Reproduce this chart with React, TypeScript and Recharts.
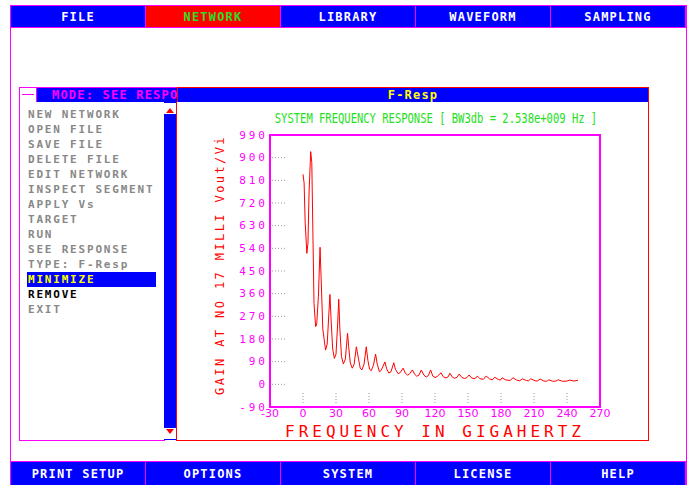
import { LineChart, Line, XAxis, YAxis, ReferenceArea } from 'recharts'

const TOP_MENU = ['FILE', 'NETWORK', 'LIBRARY', 'WAVEFORM', 'SAMPLING']
const BOTTOM_MENU = ['PRINT SETUP', 'OPTIONS', 'SYSTEM', 'LICENSE', 'HELP']
const SIDE_MENU = [
  'NEW NETWORK', 'OPEN FILE', 'SAVE FILE', 'DELETE FILE', 'EDIT NETWORK',
  'INSPECT SEGMENT', 'APPLY Vs', 'TARGET', 'RUN', 'SEE RESPONSE',
  'TYPE: F-Resp', 'MINIMIZE', 'REMOVE', 'EXIT',
]
const ACTIVE_TOP = 'NETWORK'
const ACTIVE_ITEM = 'MINIMIZE'
const DARK_ITEM = 'REMOVE'

// frequency (GHz) / gain
const FREQ_GHZ = [
  0, 1, 2, 3.5, 4.5, 5.5, 7, 8, 9, 10,
  11.5, 12.5, 14, 15.5, 16.5, 18, 20.5, 22, 23.5, 24.5,
  25.5, 27, 28.5, 30, 31.5, 32.5, 33.5, 35, 36.7, 38.5,
  40.5, 41.5, 43, 44.8, 46.5, 48.5, 50.5, 52, 53.5, 55.5,
  57.5, 59, 60.5, 62, 64, 66, 67.5, 69.5, 71, 74.5,
  76, 78, 80, 82.5, 84, 86.5, 88.5, 91, 93, 95,
  97, 99.5, 101.5, 103.5, 105.5, 107.5, 110, 112, 114, 116,
  118, 120, 122, 125.5, 127.5, 130, 132, 133.5, 136, 138,
  140, 142, 144.5, 147, 149, 151, 153, 155.5, 157, 158.5,
  161, 164, 166.5, 169.5, 172, 174.5, 177.5, 179.5, 181, 184,
  188, 191, 194, 197, 199.5, 203, 205, 207, 211, 213,
  215.5, 219, 221.5, 223.5, 227, 230, 232, 236, 240, 242.5,
  246, 250,
]
const GAIN = [
  834, 800, 640, 520, 560, 760, 924, 880, 600, 320,
  229, 240, 350, 544, 420, 220, 136, 160, 280, 357,
  260, 140, 103, 120, 240, 338, 220, 110, 81, 100,
  203, 150, 85, 64, 80, 149, 100, 65, 57, 80,
  149, 95, 60, 54, 75, 120, 80, 50, 55, 89,
  62, 45, 50, 86, 60, 42, 47, 64, 45, 36,
  42, 57, 40, 32, 37, 57, 36, 29, 35, 57,
  33, 27, 31, 46, 30, 25, 30, 44, 28, 24,
  28, 41, 27, 23, 27, 37, 26, 22, 25, 33,
  22, 20, 33, 22, 18, 28, 19, 17, 26, 18,
  15, 26, 17, 14, 22, 15, 14, 22, 14, 13,
  21, 13, 12, 18, 12, 13, 18, 12, 13, 17,
  13, 16,
]
const X_TICKS = [-30, 0, 30, 60, 90, 120, 150, 180, 210, 240, 270]
const Y_TICKS = [-90, 0, 90, 180, 270, 360, 450, 540, 630, 720, 810, 900, 990]

const TITLE = 'SYSTEM FREQUENCY RESPONSE [ BW3db = 2.538e+009 Hz ]'
const X_LABEL = 'FREQUENCY IN GIGAHERTZ'
const Y_LABEL = 'GAIN AT NO 17 MILLI Vout/Vi'

const BLUE = '#0000ff'
const RED = '#ff0000'
const MAGENTA = '#ff00ff'
const GREEN = '#22e022'
const YELLOW = '#ffff00'
const MONO = '"DejaVu Sans Mono", monospace'

const data = FREQ_GHZ.map((f, i) => ({ f, g: GAIN[i] }))

function YTick({ x, y, payload }: any) {
  const v = payload.value
  const inner = v > Y_TICKS[0] && v < Y_TICKS[Y_TICKS.length - 1]
  return (
    <g>
      <text x={x} y={y} textAnchor="end" dominantBaseline="central" fill={MAGENTA}
        fontSize={11} fontFamily={MONO} letterSpacing={3}>{v}</text>
      {inner && <line x1={x + 4} x2={x + 17} y1={y} y2={y} stroke="#999" strokeDasharray="1 2" />}
    </g>
  )
}

function XTick({ x, y, payload }: any) {
  const v = payload.value
  const inner = v > X_TICKS[0] && v < X_TICKS[X_TICKS.length - 1]
  return (
    <g>
      <text x={x} y={y} dy={6} textAnchor="middle" dominantBaseline="central" fill={MAGENTA}
        fontSize={11} fontFamily='"DejaVu Sans", sans-serif'>{v}</text>
      {inner && <line x1={x} x2={x} y1={y - 14} y2={y - 2} stroke="#999" strokeDasharray="1 2" />}
    </g>
  )
}

function YLabel({ viewBox }: any) {
  const cx = viewBox.x + 10
  const cy = viewBox.y + viewBox.height / 2 - 6
  return (
    <text x={cx} y={cy} transform={`rotate(-90, ${cx}, ${cy})`} textAnchor="middle" dominantBaseline="central"
      fill={RED} fontSize={12} fontFamily={MONO} letterSpacing={2.4}>{Y_LABEL}</text>
  )
}

function MenuBar({ items, top, height, active }: { items: string[]; top: number; height: number; active?: string }) {
  return (
    <>
      {items.map((t, i) => (
        <div key={t} style={{
          position: 'absolute', left: 10 + i * 135, top, width: 136, height,
          boxSizing: 'border-box', border: `1px solid ${MAGENTA}`,
          background: t === active ? RED : BLUE, color: t === active ? GREEN : '#fff',
          display: 'flex', alignItems: 'center', justifyContent: 'center',
          fontFamily: MONO, fontWeight: 'bold', fontSize: 12, letterSpacing: 1.2,
        }}>{t}</div>
      ))}
    </>
  )
}

function FreqChart() {
  return (
    <LineChart width={471} height={338} data={data} margin={{ top: 33, right: 48, left: 33, bottom: 0 }}>
      <XAxis type="number" dataKey="f" domain={[-30, 270]} ticks={X_TICKS} interval={0} allowDataOverflow
        height={33} axisLine={{ stroke: MAGENTA, strokeWidth: 2 }} tickLine={false} tickSize={0} tickMargin={0}
        tick={<XTick />}
        label={{ value: X_LABEL, position: 'insideBottom', offset: 3, fill: RED, fontSize: 16, fontFamily: MONO, letterSpacing: 4 }} />
      <YAxis type="number" domain={[-90, 990]} ticks={Y_TICKS} interval={0} allowDataOverflow
        width={60} axisLine={{ stroke: MAGENTA, strokeWidth: 2 }} tickLine={false} tickSize={0} tickMargin={2}
        tick={<YTick />}
        label={{ content: <YLabel /> }} />
      <ReferenceArea x1={-30} x2={270} y1={-90} y2={990} fill="none" fillOpacity={0} stroke={MAGENTA} strokeWidth={2} />
      <Line type="linear" dataKey="g" stroke={RED} strokeWidth={1} dot={false} isAnimationActive={false} />
    </LineChart>
  )
}

export default function App() {
  return (
    <div style={{ position: 'absolute', left: 0, top: 0, width: 689, height: 485, background: '#fff', overflow: 'hidden', fontFamily: MONO }}>
      <div style={{ position: 'absolute', left: 10, top: 5, width: 677, height: 480, boxSizing: 'border-box', borderLeft: `1px solid ${MAGENTA}`, borderRight: `1px solid ${MAGENTA}` }} />
      <MenuBar items={TOP_MENU} top={5} height={23} active={ACTIVE_TOP} />
      <MenuBar items={BOTTOM_MENU} top={461} height={25} />

      {/* window title bars */}
      <div style={{ position: 'absolute', left: 19, top: 87, width: 159, height: 16, boxSizing: 'border-box', background: BLUE, border: `1px solid ${MAGENTA}`, overflow: 'hidden' }}>
        <div style={{ position: 'absolute', left: 0, top: 0, width: 16, height: 14, background: '#fff', borderRight: `1px solid ${MAGENTA}` }}>
          <div style={{ position: 'absolute', left: 2, top: 6, width: 12, height: 1, background: MAGENTA }} />
        </div>
        <div style={{ position: 'absolute', left: 32, top: 0, lineHeight: '14px', whiteSpace: 'nowrap', color: MAGENTA, fontWeight: 'bold', fontSize: 12, letterSpacing: 1.2 }}>MODE: SEE RESPONSE</div>
      </div>
      <div style={{ position: 'absolute', left: 177, top: 87, width: 472, height: 16, boxSizing: 'border-box', background: BLUE, border: `1px solid ${RED}`, color: YELLOW, fontWeight: 'bold', fontSize: 12, letterSpacing: 1.2, textAlign: 'center', lineHeight: '14px' }}>F-Resp</div>

      {/* menu panel */}
      <div style={{ position: 'absolute', left: 19, top: 102, width: 146, height: 339, boxSizing: 'border-box', background: '#fff', borderLeft: `1px solid ${MAGENTA}`, borderBottom: `1px solid ${MAGENTA}` }} />
      {SIDE_MENU.map((t, i) => (
        <div key={t} style={{
          position: 'absolute', left: 27, top: 107 + i * 15, width: 129, height: 15, lineHeight: '15px',
          paddingLeft: 1, boxSizing: 'border-box', whiteSpace: 'nowrap',
          background: t === ACTIVE_ITEM ? BLUE : 'transparent',
          color: t === ACTIVE_ITEM ? YELLOW : t === DARK_ITEM ? '#000' : '#888',
          fontWeight: 'bold', fontSize: 11, letterSpacing: 1.8,
        }}>{t}</div>
      ))}

      {/* scrollbar */}
      <div style={{ position: 'absolute', left: 164, top: 102, width: 12, height: 338, background: BLUE }} />
      <svg style={{ position: 'absolute', left: 164, top: 103 }} width={12} height={11}>
        <rect x={0} y={0} width={12} height={11} fill="#fff" />
        <polygon points="2,10 10,10 6,5" fill={RED} />
      </svg>
      <svg style={{ position: 'absolute', left: 164, top: 428 }} width={12} height={11}>
        <rect x={0} y={0} width={12} height={11} fill="#fff" />
        <polygon points="2,1 10,1 6,6" fill={RED} />
      </svg>

      {/* chart pane */}
      <div style={{ position: 'absolute', left: 176, top: 102, width: 473, height: 339, boxSizing: 'border-box', background: '#fff', border: `1px solid ${RED}`, borderTop: 'none' }}>
        <div style={{ position: 'absolute', left: 0, top: 0 }}>
          <FreqChart />
        </div>
      </div>
      <div style={{ position: 'absolute', left: 435.5, top: 111, transform: 'translateX(-50%) scaleX(0.75)', whiteSpace: 'nowrap', color: GREEN, fontSize: 14, lineHeight: '14px' }}>{TITLE}</div>
    </div>
  )
}
